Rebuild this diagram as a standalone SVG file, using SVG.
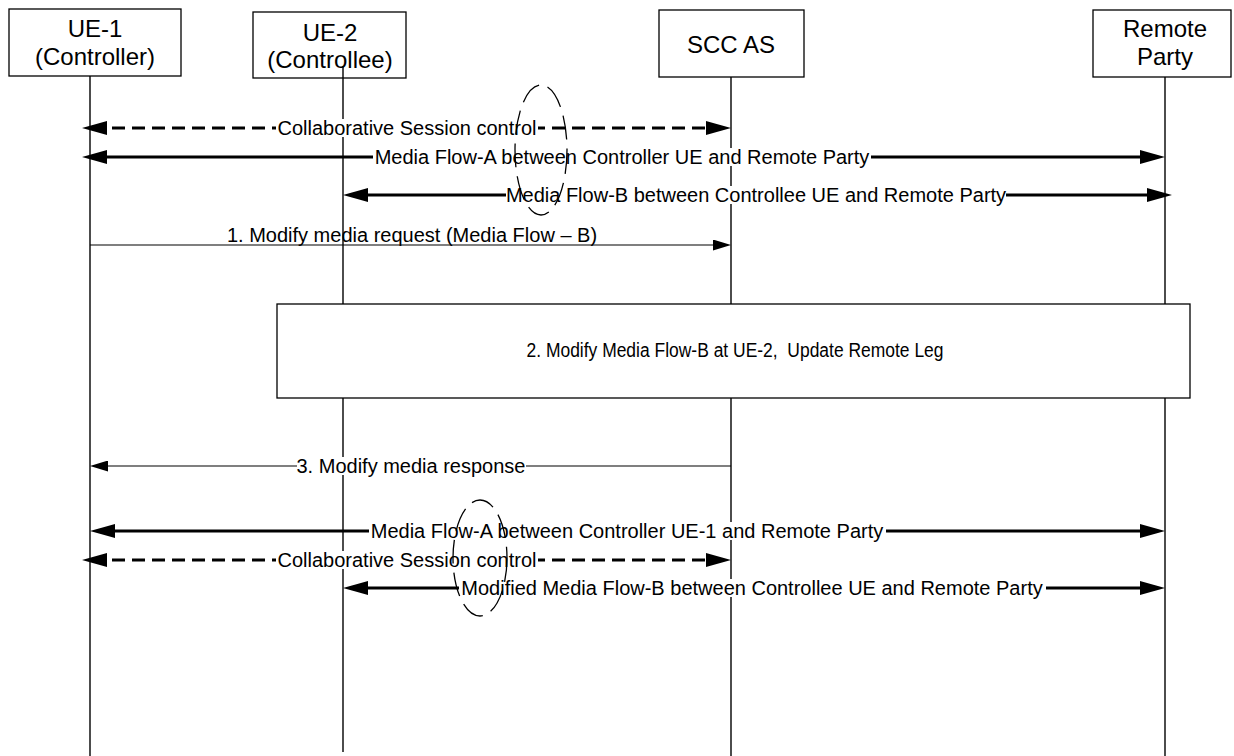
<svg xmlns="http://www.w3.org/2000/svg" width="1234" height="756" viewBox="0 0 1234 756">
<defs>
<style>
.box{fill:#fff;stroke:#000;stroke-width:1.3}
.life{stroke:#000;stroke-width:1.4;fill:none}
.hd{font-family:"Liberation Sans",Arial,sans-serif;font-size:24px;fill:#000;text-anchor:middle}
.lbl{font-family:"Liberation Sans",Arial,sans-serif;font-size:20px;fill:#000;text-anchor:middle}
.bg{fill:#fff;stroke:none}
.thick{stroke:#000;stroke-width:3;fill:none}
.dash{stroke:#000;stroke-width:3;fill:none;stroke-dasharray:13 7}
.thin{stroke:#000;stroke-width:1.2;fill:none}
.ell{fill:none;stroke:#000;stroke-width:1.3;stroke-dasharray:24 9}
</style>
<marker id="ah" markerUnits="userSpaceOnUse" markerWidth="25" markerHeight="14" refX="15" refY="7" orient="auto-start-reverse">
<path d="M0,0 L25,7 L0,14 z" fill="#000"/>
</marker>
<marker id="as" markerUnits="userSpaceOnUse" markerWidth="18" markerHeight="11" refX="10" refY="5.5" orient="auto-start-reverse">
<path d="M0,0 L18,5.5 L0,11 z" fill="#000"/>
</marker>
</defs>
<rect width="1234" height="756" fill="#fff"/>

<g id="ue1">
<rect class="box" x="9" y="9" width="172" height="67"/>
<text class="hd" x="95" y="37">UE-1</text>
<text class="hd" x="95" y="65">(Controller)</text>
<line class="life" x1="90" y1="76" x2="90" y2="756"/>
</g>
<g id="ue2">
<rect class="box" x="253" y="12" width="153" height="66"/>
<text class="hd" x="330" y="41">UE-2</text>
<text class="hd" x="330" y="68">(Controllee)</text>
<line class="life" x1="343" y1="66" x2="343" y2="752"/>
</g>
<g id="sccas">
<rect class="box" x="659" y="10" width="145" height="67"/>
<text class="hd" x="731" y="53">SCC AS</text>
<line class="life" x1="731" y1="77" x2="731" y2="756"/>
</g>
<g id="remote">
<rect class="box" x="1093" y="10" width="138" height="67"/>
<text class="hd" x="1165" y="37">Remote</text>
<text class="hd" x="1165" y="65">Party</text>
<line class="life" x1="1165" y1="77" x2="1165" y2="756"/>
</g>

<g id="connectors">
<line class="dash" x1="92" y1="128" x2="721" y2="128" marker-start="url(#ah)" marker-end="url(#ah)"/>
<line class="thick" x1="92" y1="157" x2="1155" y2="157" marker-start="url(#ah)" marker-end="url(#ah)"/>
<line class="thick" x1="353" y1="195" x2="1162" y2="195" marker-start="url(#ah)" marker-end="url(#ah)"/>
<line class="thin" x1="90" y1="245" x2="723" y2="245" marker-end="url(#as)"/>
<line class="thin" x1="731" y1="466" x2="98" y2="466" marker-end="url(#as)"/>
<line class="thick" x1="100" y1="531" x2="1155" y2="531" marker-start="url(#ah)" marker-end="url(#ah)"/>
<line class="dash" x1="92" y1="560" x2="721" y2="560" marker-start="url(#ah)" marker-end="url(#ah)"/>
<line class="thick" x1="353" y1="588" x2="1155" y2="588" marker-start="url(#ah)" marker-end="url(#ah)"/>
</g>

<g id="labels">
<rect class="bg" x="276" y="119" width="262" height="18"/>
<text class="lbl" x="407" y="135">Collaborative Session control</text>
<rect class="bg" x="373" y="148" width="498" height="18"/>
<text class="lbl" x="622" y="164">Media Flow-A between Controller UE and Remote Party</text>
<rect class="bg" x="506" y="186" width="500" height="18"/>
<text class="lbl" x="756" y="202">Media Flow-B between Controllee UE and Remote Party</text>
<text class="lbl" x="412" y="242">1. Modify media request (Media Flow – B)</text>
<rect class="bg" x="297" y="457" width="229" height="18"/>
<text class="lbl" x="411" y="473">3. Modify media response</text>
<rect class="bg" x="369" y="522" width="517" height="18"/>
<text class="lbl" x="627" y="538">Media Flow-A between Controller UE-1 and Remote Party</text>
<rect class="bg" x="276" y="551" width="262" height="18"/>
<text class="lbl" x="407" y="567">Collaborative Session control</text>
<rect class="bg" x="459" y="579" width="587" height="18"/>
<text class="lbl" x="752" y="595">Modified Media Flow-B between Controllee UE and Remote Party</text>
</g>

<g id="step2">
<rect class="box" x="277" y="304" width="913" height="94"/>
<text class="lbl" x="735" y="357" font-size="19" textLength="417" lengthAdjust="spacingAndGlyphs">2. Modify Media Flow-B at UE-2,&#160; Update Remote Leg</text>
</g>

<g id="ellipses">
<ellipse class="ell" cx="541" cy="150" rx="26" ry="65"/>
<ellipse class="ell" cx="480" cy="558" rx="27" ry="58"/>
</g>
</svg>
